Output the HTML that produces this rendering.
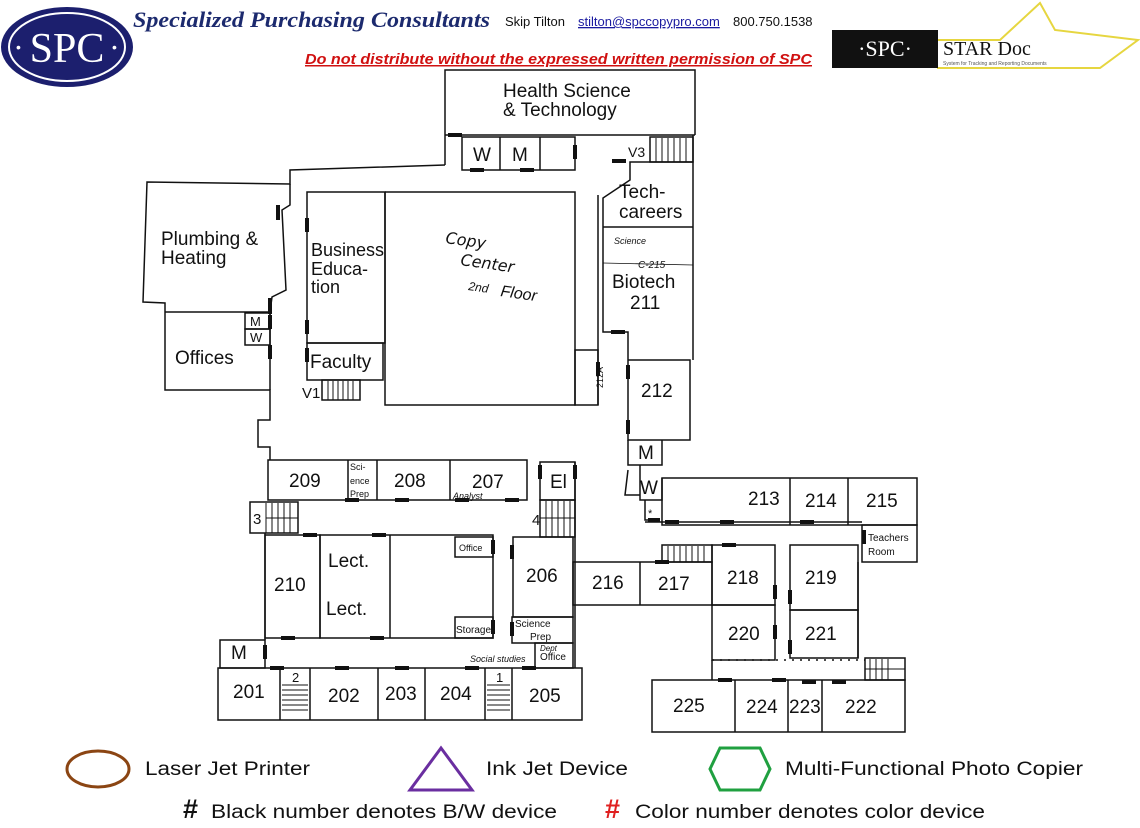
<!DOCTYPE html>
<html><head><meta charset="utf-8"><style>
body{margin:0;background:#fff;width:1140px;height:828px;overflow:hidden}
svg{display:block}
text{font-family:"Liberation Sans","DejaVu Sans",sans-serif;fill:#111}
</style></head><body>
<svg width="1140" height="828" viewBox="0 0 1140 828" xmlns="http://www.w3.org/2000/svg">
<ellipse cx="67" cy="47" rx="66" ry="40" fill="#1c1f6e"/>
<ellipse cx="67" cy="47" rx="58" ry="34" fill="none" stroke="#fff" stroke-width="2"/>
<text x="67" y="62" text-anchor="middle" style="font-family:'Liberation Serif',serif;fill:#fff" font-size="42">SPC</text>
<text x="16" y="52" style="fill:#fff" font-size="14">•</text><text x="112" y="52" style="fill:#fff" font-size="14">•</text>
<text x="133" y="27" textLength="357" lengthAdjust="spacingAndGlyphs" style="font-family:'Liberation Serif',serif;fill:#1c2a6e;font-weight:bold;font-style:italic" font-size="22">Specialized Purchasing Consultants</text>
<text x="505" y="26" font-size="13">Skip Tilton</text>
<text x="578" y="26" font-size="13" style="fill:#1a1aa0" text-decoration="underline">stilton@spccopypro.com</text>
<text x="733" y="26" font-size="13">800.750.1538</text>
<text x="305" y="64" textLength="507" lengthAdjust="spacingAndGlyphs" font-size="15" style="fill:#d01010;font-weight:bold;font-style:italic" text-decoration="underline">Do not distribute without the expressed written permission of SPC</text>
<polyline points="900,40 1000,40 1040,3 1055,30 1138,40 1100,68 1000,68 937,68" fill="none" stroke="#e6d640" stroke-width="2"/>
<rect x="832" y="30" width="106" height="38" fill="#111"/>
<text x="885" y="56" text-anchor="middle" style="font-family:'Liberation Serif',serif;fill:#fff" font-size="22">·SPC·</text>
<text x="943" y="55" style="font-family:'Liberation Serif',serif" font-size="20">STAR Doc</text>
<text x="943" y="65" font-size="5" style="fill:#555">System for Tracking and Reporting Documents</text>

<g fill="none" stroke="#111" stroke-width="1.5">
<polyline points="445,165 445,70 695,70 695,135"/>
<line x1="445" y1="135" x2="695" y2="135"/>
<rect x="462" y="137" width="113" height="33"/>
<line x1="500" y1="137" x2="500" y2="170"/><line x1="540" y1="137" x2="540" y2="170"/>
<rect x="650" y="137" width="43" height="25"/>
<polyline points="445,165 290,170 290,184 147,182 143,302 165,303 165,390 270,390 270,420 258,420 258,447 270,447 270,460"/>
<polyline points="290,184 290,205 282,210 286,290 272,297 270,312 165,312"/>
<line x1="270" y1="300" x2="270" y2="390"/>
<rect x="245" y="313" width="25" height="16"/><rect x="245" y="329" width="25" height="16"/>
<rect x="307" y="192" width="78" height="151"/>
<rect x="307" y="343" width="76" height="37"/>
<rect x="322" y="380" width="38" height="20"/>
<polyline points="385,192 575,192 575,405 385,405 385,192"/>
<rect x="575" y="350" width="23" height="55"/>
<line x1="598" y1="195" x2="598" y2="405"/>
<polyline points="693,135 693,360"/>
<polyline points="693,162 630,162 630,180 603,198 603,332 628,332 628,440 690,440 690,360 628,360"/>
<line x1="603" y1="227" x2="693" y2="227"/>
<line x1="603" y1="263" x2="693" y2="265" stroke-width="0.8"/>
<polyline points="628,440 628,465 662,465 662,440"/>
<polyline points="640,465 640,500 662,500 662,478"/>
<polyline points="628,470 625,495 640,495"/>
<polyline points="645,500 645,520 660,520"/>
<rect x="662" y="478" width="255" height="47"/>
<line x1="790" y1="478" x2="790" y2="525"/><line x1="848" y1="478" x2="848" y2="525"/>
<polyline points="645,522 862,522"/>
<rect x="862" y="525" width="55" height="37"/>
<rect x="268" y="460" width="259" height="40"/>
<line x1="348" y1="460" x2="348" y2="500"/><line x1="377" y1="460" x2="377" y2="500"/><line x1="450" y1="460" x2="450" y2="500"/>
<rect x="540" y="462" width="35" height="38"/>
<rect x="540" y="500" width="35" height="37"/>
<line x1="575" y1="462" x2="575" y2="668"/>
<rect x="250" y="502" width="48" height="31"/>
<rect x="265" y="535" width="55" height="103"/>
<rect x="320" y="535" width="173" height="103"/>
<line x1="390" y1="535" x2="390" y2="638"/>
<rect x="455" y="537" width="38" height="20"/><rect x="455" y="617" width="38" height="21"/>
<rect x="513" y="537" width="60" height="80"/>
<rect x="512" y="617" width="61" height="26"/>
<rect x="535" y="643" width="38" height="25"/>
<polyline points="265,533 265,640"/>
<rect x="220" y="640" width="45" height="28"/>
<rect x="218" y="668" width="364" height="52"/>
<line x1="280" y1="668" x2="280" y2="720"/><line x1="310" y1="668" x2="310" y2="720"/>
<line x1="378" y1="668" x2="378" y2="720"/><line x1="425" y1="668" x2="425" y2="720"/>
<line x1="485" y1="668" x2="485" y2="720"/><line x1="512" y1="668" x2="512" y2="720"/>
<rect x="573" y="562" width="139" height="43"/>
<line x1="640" y1="562" x2="640" y2="605"/>
<rect x="662" y="545" width="50" height="17"/>
<rect x="712" y="545" width="63" height="60"/>
<rect x="712" y="605" width="63" height="55"/>
<rect x="790" y="545" width="68" height="65"/>
<rect x="790" y="610" width="68" height="48"/>
<line x1="858" y1="562" x2="858" y2="658"/>
<rect x="865" y="658" width="40" height="22"/>
<polyline points="712,660 712,680"/>
<line x1="712" y1="660" x2="865" y2="660" stroke-dasharray="2,6"/>
<rect x="652" y="680" width="253" height="52"/>
<line x1="735" y1="680" x2="735" y2="732"/><line x1="788" y1="680" x2="788" y2="732"/><line x1="822" y1="680" x2="822" y2="732"/>
</g>
<g stroke="#111" stroke-width="1">
<path d="M656 138v24M662 138v24M668 138v24M674 138v24M680 138v24M686 138v24"/>
<path d="M328 381v19M333 381v19M338 381v19M343 381v19M348 381v19M353 381v19"/>
<path d="M266 503v30M272 503v30M278 503v30M284 503v30M290 503v30M266 518h32"/>
<path d="M546 501v36M552 501v36M558 501v36M564 501v36M570 501v36M540 518h35"/>
<path d="M282 685h26M282 690h26M282 695h26M282 700h26M282 705h26M282 710h26"/>
<path d="M487 685h23M487 690h23M487 695h23M487 700h23M487 705h23M487 710h23"/>
<path d="M668 546v16M674 546v16M680 546v16M686 546v16M692 546v16M698 546v16M704 546v16"/>
<path d="M870 659v21M876 659v21M882 659v21M888 659v21M865 669h40"/>
</g>
<g fill="#111">
<rect x="448" y="133" width="14" height="4"/><rect x="470" y="168" width="14" height="4"/><rect x="520" y="168" width="14" height="4"/>
<rect x="573" y="145" width="4" height="14"/><rect x="612" y="159" width="14" height="4"/>
<rect x="276" y="205" width="4" height="15"/><rect x="268" y="298" width="4" height="16"/><rect x="268" y="315" width="4" height="14"/><rect x="268" y="345" width="4" height="14"/>
<rect x="305" y="218" width="4" height="14"/><rect x="305" y="320" width="4" height="14"/><rect x="305" y="348" width="4" height="14"/>
<rect x="596" y="362" width="4" height="14"/><rect x="611" y="330" width="14" height="4"/>
<rect x="626" y="365" width="4" height="14"/><rect x="626" y="420" width="4" height="14"/>
<rect x="345" y="498" width="14" height="4"/><rect x="395" y="498" width="14" height="4"/><rect x="455" y="498" width="14" height="4"/><rect x="505" y="498" width="14" height="4"/>
<rect x="303" y="533" width="14" height="4"/><rect x="372" y="533" width="14" height="4"/>
<rect x="281" y="636" width="14" height="4"/><rect x="370" y="636" width="14" height="4"/>
<rect x="491" y="540" width="4" height="14"/><rect x="491" y="620" width="4" height="14"/><rect x="510" y="545" width="4" height="14"/><rect x="510" y="622" width="4" height="14"/>
<rect x="263" y="645" width="4" height="14"/>
<rect x="270" y="666" width="14" height="4"/><rect x="335" y="666" width="14" height="4"/><rect x="395" y="666" width="14" height="4"/><rect x="465" y="666" width="14" height="4"/><rect x="522" y="666" width="14" height="4"/>
<rect x="665" y="520" width="14" height="4"/><rect x="720" y="520" width="14" height="4"/><rect x="800" y="520" width="14" height="4"/><rect x="862" y="530" width="4" height="14"/>
<rect x="648" y="518" width="12" height="4"/>
<rect x="655" y="560" width="14" height="4"/><rect x="722" y="543" width="14" height="4"/>
<rect x="773" y="585" width="4" height="14"/><rect x="773" y="625" width="4" height="14"/><rect x="788" y="590" width="4" height="14"/><rect x="788" y="640" width="4" height="14"/>
<rect x="718" y="678" width="14" height="4"/><rect x="772" y="678" width="14" height="4"/><rect x="802" y="680" width="14" height="4"/><rect x="832" y="680" width="14" height="4"/>
<rect x="538" y="465" width="4" height="14"/><rect x="573" y="465" width="4" height="14"/>
</g>
<g font-size="19">
<text x="503" y="97">Health Science</text><text x="503" y="116">&amp; Technology</text>
<text x="473" y="161">W</text><text x="512" y="161">M</text>
<text x="628" y="157" font-size="14">V3</text>
<text x="619" y="198">Tech-</text><text x="619" y="218">careers</text>
<text x="612" y="288">Biotech</text><text x="630" y="309">211</text>
<text x="641" y="397">212</text>
<text x="638" y="459">M</text><text x="640" y="494">W</text>
<text x="648" y="517" font-size="11">*</text>
<text x="748" y="505">213</text><text x="805" y="507">214</text><text x="866" y="507">215</text>
<text x="868" y="541" font-size="10">Teachers</text><text x="868" y="555" font-size="10">Room</text>
<text x="161" y="245">Plumbing &amp;</text><text x="161" y="264">Heating</text>
<text x="175" y="364">Offices</text>
<text x="250" y="326" font-size="13">M</text><text x="250" y="342" font-size="13">W</text>
<text x="311" y="256" font-size="18">Business</text><text x="311" y="275" font-size="18">Educa-</text><text x="311" y="293" font-size="18">tion</text>
<text x="310" y="368">Faculty</text>
<text x="302" y="398" font-size="15">V1</text>
<text x="289" y="487">209</text><text x="394" y="487">208</text><text x="472" y="488">207</text><text x="550" y="488">El</text>
<text x="350" y="470" font-size="9">Sci-</text><text x="350" y="484" font-size="9">ence</text><text x="350" y="497" font-size="9">Prep</text>
<text x="253" y="524" font-size="15">3</text><text x="532" y="525" font-size="15">4</text>
<text x="274" y="591">210</text><text x="328" y="567">Lect.</text><text x="326" y="615">Lect.</text>
<text x="459" y="551" font-size="9">Office</text><text x="456" y="633" font-size="10">Storage</text>
<text x="526" y="582">206</text>
<text x="515" y="627" font-size="10">Science</text><text x="530" y="640" font-size="10">Prep</text>
<text x="540" y="660" font-size="10">Office</text>
<text x="231" y="659">M</text>
<text x="233" y="698">201</text><text x="328" y="702">202</text><text x="385" y="700">203</text><text x="440" y="700">204</text><text x="529" y="702">205</text>
<text x="292" y="682" font-size="13">2</text><text x="496" y="682" font-size="13">1</text>
<text x="592" y="589">216</text><text x="658" y="590">217</text><text x="727" y="584">218</text><text x="805" y="584">219</text>
<text x="728" y="640">220</text><text x="805" y="640">221</text>
<text x="673" y="712">225</text><text x="746" y="713">224</text><text x="789" y="713">223</text><text x="845" y="713">222</text>
<text x="580" y="395" font-size="9" transform="rotate(-90 588 380)">212A</text>
</g>
<g font-size="14" style="font-style:italic;fill:#222">
<text x="445" y="243" font-size="16" transform="rotate(8 445 243)" style="font-family:'DejaVu Sans';font-style:italic">Copy</text>
<text x="460" y="265" font-size="16" transform="rotate(8 460 265)" style="font-family:'DejaVu Sans';font-style:italic">Center</text>
<text x="468" y="290" font-size="12" transform="rotate(8 468 290)">2nd</text>
<text x="500" y="296" font-size="16" transform="rotate(8 500 296)">Floor</text>
<text x="614" y="244" font-size="9">Science</text>
<text x="638" y="268" font-size="10">C-215</text>
<text x="453" y="499" font-size="9">Analyst</text>
<text x="470" y="662" font-size="9">Social studies</text>
<text x="540" y="651" font-size="8">Dept</text>
</g>
<ellipse cx="98" cy="769" rx="31" ry="18" fill="none" stroke="#8b4513" stroke-width="3"/>
<text x="145" y="775" font-size="19" textLength="165" lengthAdjust="spacingAndGlyphs">Laser Jet Printer</text>
<polygon points="441,748 472,790 410,790" fill="none" stroke="#6a2ea0" stroke-width="3"/>
<text x="486" y="775" font-size="19" textLength="142" lengthAdjust="spacingAndGlyphs">Ink Jet Device</text>
<polygon points="720,748 760,748 770,769 760,790 720,790 710,769" fill="none" stroke="#20a040" stroke-width="3"/>
<text x="785" y="775" font-size="19" textLength="298" lengthAdjust="spacingAndGlyphs">Multi-Functional Photo Copier</text>
<text x="183" y="818" font-size="27" font-weight="bold">#</text>
<text x="211" y="818" font-size="19" textLength="346" lengthAdjust="spacingAndGlyphs">Black number denotes B/W device</text>
<text x="605" y="818" font-size="27" font-weight="bold" style="fill:#e02020">#</text>
<text x="635" y="818" font-size="19" textLength="350" lengthAdjust="spacingAndGlyphs">Color number denotes color device</text>
</svg>
</body></html>
